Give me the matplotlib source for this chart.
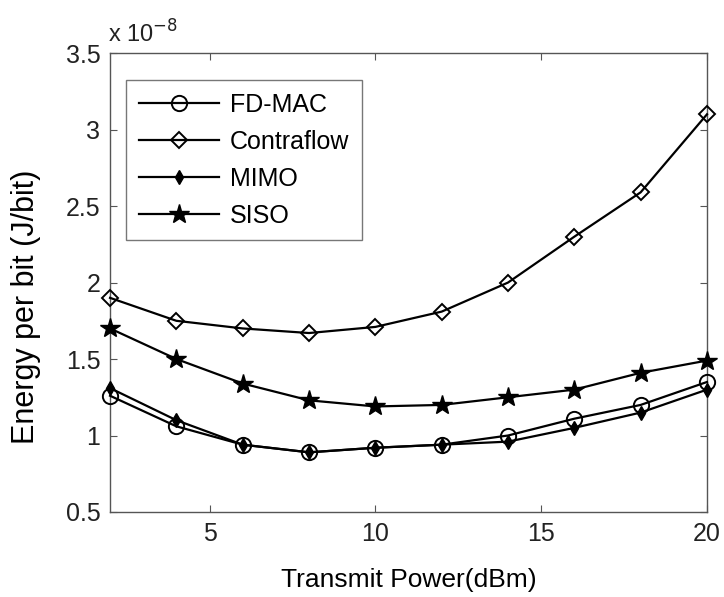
import matplotlib.pyplot as plt
import matplotlib.ticker as mticker

plt.rcParams['font.family'] = ['Liberation Sans', 'DejaVu Sans']

# transmit power (dBm)
power = [2, 4, 6, 8, 10, 12, 14, 16, 18, 20]

# energy per bit, in units of 1e-8 J/bit
fd_mac = [1.26, 1.06, 0.94, 0.89, 0.92, 0.94, 1.00, 1.11, 1.20, 1.35]
contraflow = [1.90, 1.75, 1.70, 1.67, 1.71, 1.81, 2.00, 2.30, 2.59, 3.10]
mimo = [1.31, 1.10, 0.94, 0.89, 0.92, 0.94, 0.96, 1.05, 1.15, 1.30]
siso = [1.70, 1.50, 1.34, 1.23, 1.19, 1.20, 1.25, 1.30, 1.41, 1.49]

fig = plt.figure(figsize=(7.24, 5.97), dpi=100)
ax = fig.add_axes([0.152, 0.1424, 0.8245, 0.7686])

style = dict(color='black', lw=1.6, clip_on=False, zorder=3)
ax.plot(power, fd_mac, marker='o', ms=11, mfc='none', mec='black', mew=1.4,
        label='FD-MAC', **style)
ax.plot(power, contraflow, marker='D', ms=8.5, mfc='none', mec='black', mew=1.4,
        label='Contraflow', **style)
ax.plot(power, mimo, marker='d', ms=7, mfc='black', mec='black',
        label='MIMO', **style)
ax.plot(power, siso, marker='*', ms=15, mfc='black', mec='black',
        label='SISO', **style)

ax.set_xlim(2, 20)
ax.set_ylim(0.5, 3.5)
ax.set_xticks([5, 10, 15, 20])
ax.set_yticks([0.5, 1, 1.5, 2, 2.5, 3, 3.5])
ax.yaxis.set_major_formatter(mticker.FuncFormatter(lambda v, p: f'{v:g}'))
ax.tick_params(direction='in', top=True, right=True, labelsize=18, length=5,
               pad=7, color='#555555', labelcolor='#222222')
for s in ax.spines.values():
    s.set_color('#555555')
    s.set_linewidth(1.0)

ax.text(-0.004, 1.012, r'x 10$^{-8}$', transform=ax.transAxes, fontsize=17,
        ha='left', va='bottom', color='#222222')

ax.set_xlabel('Transmit Power(dBm)', fontsize=19, labelpad=16)
ax.set_ylabel('Energy per bit (J/bit)', fontsize=22)
ax.yaxis.set_label_coords(-0.115, 0.447)

leg = ax.legend(loc='upper left', bbox_to_anchor=(0.0268, 0.941),
                borderaxespad=0, fontsize=18, handlelength=3.2,
                frameon=True, fancybox=False, borderpad=0.5,
                labelspacing=0.52, handletextpad=0.45)
leg.get_frame().set_edgecolor('#555555')
leg.get_frame().set_linewidth(1.0)

fig.savefig('out.png', dpi=100)
